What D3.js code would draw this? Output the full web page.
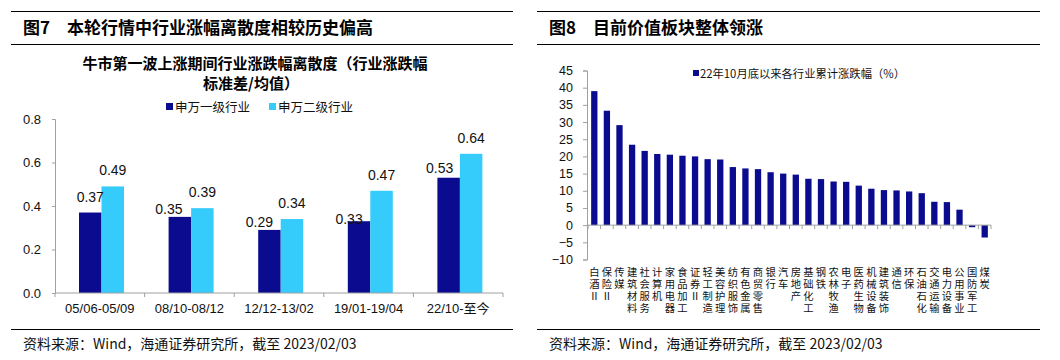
<!DOCTYPE html>
<html><head><meta charset="utf-8">
<script src="https://cdn.jsdelivr.net/npm/d3@7"></script>
<style>
html,body{margin:0;padding:0;background:#fff;}
svg{display:block;}
text{font-family:"Liberation Sans","Noto Sans CJK SC",sans-serif;}
.cjk{font-family:"Noto Sans CJK SC","Liberation Sans",sans-serif;}
</style></head>
<body>
<svg id="c" width="1060" height="360"></svg>
<script>
// ---------- data ----------
const periods = ["05/06-05/09","08/10-08/12","12/12-13/02","19/01-19/04","22/10-至今"];
const seriesNames = ["申万一级行业","申万二级行业"];
const level1 = [0.37,0.35,0.29,0.33,0.53];
const level2 = [0.49,0.39,0.34,0.47,0.64];
const leftTicks = [0,0.2,0.4,0.6,0.8];

const industries = ["白酒Ⅱ","保险Ⅱ","传媒","建筑材料","社会服务","计算机","家用电器","食品加工","证券Ⅱ","轻工制造","美容护理","纺织服饰","有色金属","商贸零售","银行","汽车","房地产","基础化工","钢铁","农林牧渔","电子","医药生物","机械设备","建筑装饰","通信","环保","石油石化","交通运输","电力设备","公用事业","国防军工","煤炭"];
const returns = [39.0,33.3,29.1,23.4,21.6,20.7,20.5,20.2,20.0,19.2,19.1,16.9,16.5,16.3,15.4,15.0,14.7,13.5,13.4,12.7,12.6,11.5,10.6,10.2,10.1,9.8,9.3,6.8,6.7,4.5,-0.6,-3.6];
const rightTicks = [-10,-5,0,5,10,15,20,25,30,35,40,45];
const rightLegend = "22年10月底以来各行业累计涨跌幅（%）";

const DARK = "#0B0B8F", LIGHT = "#35CCFB", AXIS = "#A0A0A0";
const svg = d3.select("#c");

// ---------- panel headers / footers ----------
function frame(x0, x1, num, title, src){
  svg.append("line").attr("x1",x0).attr("x2",x1).attr("y1",11.5).attr("y2",11.5).attr("stroke","#000").attr("stroke-width",1.2);
  svg.append("line").attr("x1",x0).attr("x2",x1).attr("y1",44.5).attr("y2",44.5).attr("stroke","#000").attr("stroke-width",1.2);
  svg.append("text").attr("class","cjk").attr("x",x0+12).attr("y",34).attr("font-size",17).attr("font-weight",700).text(num);
  svg.append("text").attr("class","cjk").attr("x",x0+56).attr("y",34).attr("font-size",17).attr("font-weight",700).text(title);
  svg.append("line").attr("x1",x0).attr("x2",x1).attr("y1",329.5).attr("y2",329.5).attr("stroke","#000").attr("stroke-width",1.2);
  svg.append("text").attr("class","cjk").attr("x",x0+12).attr("y",349).attr("font-size",14).attr("fill","#111").text(src);
}
frame(11, 513, "图7", "本轮行情中行业涨幅离散度相较历史偏高", "资料来源：Wind，海通证券研究所，截至 2023/02/03");
frame(537, 1040, "图8", "目前价值板块整体领涨", "资料来源：Wind，海通证券研究所，截至 2023/02/03");

// ---------- left chart ----------
const L = svg.append("g");
L.append("text").attr("class","cjk").attr("x",255).attr("y",69).attr("text-anchor","middle")
  .attr("font-size",15).attr("font-weight",700).text("牛市第一波上涨期间行业涨跌幅离散度（行业涨跌幅");
L.append("text").attr("class","cjk").attr("x",251).attr("y",89).attr("text-anchor","middle")
  .attr("font-size",15).attr("font-weight",700).text("标准差/均值）");

const lx0 = d3.scaleBand().domain(periods).range([55,503]);
const lx1 = d3.scaleBand().domain(seriesNames).range([24,69]);
const ly = d3.scaleLinear().domain([0,0.8]).range([293,119]);

const yAxL = L.append("g").attr("transform","translate(55,0)")
  .call(d3.axisLeft(ly).tickValues(leftTicks).tickFormat(d3.format(".1f")).tickSize(3).tickPadding(11));
yAxL.select(".domain").attr("stroke",AXIS);
yAxL.selectAll(".tick line").attr("stroke",AXIS);
yAxL.selectAll("text").attr("font-size",13).attr("fill","#111").attr("font-family","Liberation Sans");

// label placement nudges for the dark series (as hand-placed in the original)
const darkLabelNudge = [[0,-11],[-11,-3],[-10,-3],[-10,3],[-9,-5]];

const rowsL = periods.map((p,i)=>({p, i, vals:[level1[i],level2[i]]}));
const grp = L.selectAll(".grp").data(rowsL).join("g").attr("transform",d=>`translate(${lx0(d.p)},0)`);
const cells = d=>d.vals.map((v,j)=>({v,j,i:d.i,s:seriesNames[j]}));
grp.selectAll("rect").data(cells).join("rect")
  .attr("x",d=>lx1(d.s)).attr("width",lx1.bandwidth()).attr("y",d=>ly(d.v)).attr("height",d=>ly(0)-ly(d.v))
  .attr("fill",d=>d.j===0?DARK:LIGHT);
grp.selectAll("text.lab").data(cells).join("text").attr("class","lab")
  .attr("x",d=>lx1(d.s)+lx1.bandwidth()/2+(d.j===0?darkLabelNudge[d.i][0]:0))
  .attr("y",d=>ly(d.v)+(d.j===0?darkLabelNudge[d.i][1]:-11)).attr("text-anchor","middle")
  .attr("font-size",14).attr("fill","#111").text(d=>d3.format(".2f")(d.v));

// x axis
const xAxL = L.append("g").attr("transform",`translate(0,${ly(0)})`);
xAxL.append("line").attr("x1",55).attr("x2",503).attr("stroke",AXIS);
xAxL.selectAll("line.t").data(d3.range(periods.length+1)).join("line").attr("class","t")
  .attr("x1",i=>lx0.range()[0]+i*lx0.step()).attr("x2",i=>lx0.range()[0]+i*lx0.step()).attr("y1",0).attr("y2",4).attr("stroke",AXIS);
xAxL.selectAll("text").data(periods).join("text").attr("x",d=>lx0(d)+lx0.bandwidth()/2).attr("y",20)
  .attr("text-anchor","middle").attr("font-size",13).attr("fill","#111").text(d=>d);

// legend
const legL = L.append("g");
[[166,DARK,seriesNames[0]],[269,LIGHT,seriesNames[1]]].forEach(([x,c,t])=>{
  legL.append("rect").attr("x",x).attr("y",103).attr("width",7).attr("height",7).attr("fill",c);
  legL.append("text").attr("class","cjk").attr("x",x+9).attr("y",111.5).attr("font-size",12.5).attr("fill","#111").text(t);
});

// ---------- right chart ----------
const R = svg.append("g");
const rx = d3.scaleBand().domain(industries).range([588,991]).paddingInner(0.5).paddingOuter(0.25);
const ry = d3.scaleLinear().domain([-10,45]).range([259.5,70.5]);

const yAxR = R.append("g").attr("transform","translate(587,0)")
  .call(d3.axisLeft(ry).tickValues(rightTicks).tickSize(4).tickPadding(10));
yAxR.select(".domain").attr("stroke",AXIS);
yAxR.selectAll(".tick line").attr("stroke",AXIS);
yAxR.selectAll("text").attr("font-size",12.5).attr("fill","#111").attr("font-family","Liberation Sans");

R.selectAll("rect.b").data(industries.map((k,i)=>({k,v:returns[i]}))).join("rect").attr("class","b")
  .attr("x",d=>rx(d.k)).attr("width",rx.bandwidth())
  .attr("y",d=>ry(Math.max(0,d.v))).attr("height",d=>Math.abs(ry(d.v)-ry(0)))
  .attr("fill",DARK);

const step = rx.step(), r0 = rx.range()[0];
const xAxR = R.append("g").attr("transform",`translate(0,${ry(0)})`);
xAxR.append("line").attr("x1",587).attr("x2",991).attr("stroke",AXIS);
xAxR.selectAll("line.t").data(d3.range(industries.length+1)).join("line").attr("class","t")
  .attr("x1",i=>r0+i*step).attr("x2",i=>r0+i*step).attr("y1",0).attr("y2",4).attr("stroke",AXIS);

// stacked category labels: one text per character
const labs = R.append("g");
industries.forEach(k=>{
  Array.from(k).forEach((ch,j)=>{
    labs.append("text").attr("font-size",10.3).attr("fill","#111").attr("text-anchor","middle")
      .attr("x",rx(k)+rx.bandwidth()/2).attr("y",276+j*12).text(ch);
  });
});

// legend
R.append("rect").attr("x",693).attr("y",70).attr("width",6).attr("height",6).attr("fill",DARK);
R.append("text").attr("class","cjk").attr("x",700).attr("y",78).attr("font-size",11.3).attr("fill","#111").text(rightLegend);
</script>
</body></html>
